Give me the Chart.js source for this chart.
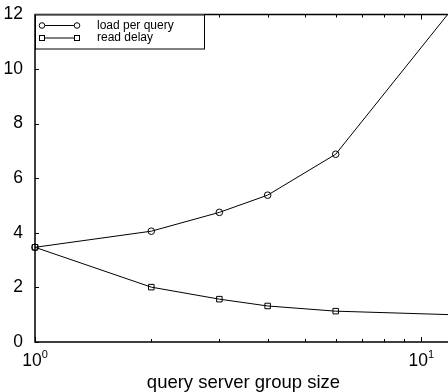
<!DOCTYPE html>
<html>
<head>
<meta charset="utf-8">
<script src="https://cdn.jsdelivr.net/npm/chart.js@4"></script>
<style>
  html, body { margin: 0; padding: 0; background: #fff; overflow: hidden; }
</style>
</head>
<body>
<canvas id="chart" width="460" height="392"></canvas>
<script>
var groupSizes = [1, 2, 3, 4, 6, 12];
var loadPerQuery = [3.47, 4.06, 4.75, 5.38, 6.88, 12.2];
var readDelay = [3.47, 2.01, 1.57, 1.32, 1.13, 1.0];

var xMajorTicks = [1, 10];
var xMinorTicks = [2, 3, 4, 5, 6, 7, 8, 9];
var yTicks = [0, 2, 4, 6, 8, 10, 12];

var FONT = '"Liberation Sans", Arial, Helvetica, sans-serif';

function pts(ys) {
  return groupSizes.map(function (g, i) { return {x: g, y: ys[i]}; });
}

// frame, inward ticks, x labels with exponents, axis title, legend box
var matlabAxes = {
  id: 'matlabAxes',
  afterDraw: function (chart) {
    var ctx = chart.ctx, a = chart.chartArea;
    var xs = chart.scales.x, ys = chart.scales.y;
    ctx.save();
    ctx.strokeStyle = '#000';
    ctx.lineWidth = 1.5;
    ctx.strokeRect(a.left, a.top, a.right - a.left, a.bottom - a.top);

    ctx.lineWidth = 1;
    ctx.beginPath();
    xMajorTicks.concat(xMinorTicks).forEach(function (v) {
      var px = Math.round(xs.getPixelForValue(v)) + 0.5;
      var len = xMajorTicks.indexOf(v) >= 0 ? 5 : 3;
      ctx.moveTo(px, a.bottom); ctx.lineTo(px, a.bottom - len);
      ctx.moveTo(px, a.top); ctx.lineTo(px, a.top + len);
    });
    yTicks.forEach(function (v) {
      var py = Math.round(ys.getPixelForValue(v)) + 0.5;
      ctx.moveTo(a.left, py); ctx.lineTo(a.left + 4, py);
      ctx.moveTo(a.right, py); ctx.lineTo(a.right - 4, py);
    });
    ctx.stroke();

    // x tick labels 10^n
    ctx.fillStyle = '#000';
    ctx.textBaseline = 'alphabetic';
    ctx.textAlign = 'left';
    xMajorTicks.forEach(function (v) {
      var px = xs.getPixelForValue(v);
      var exp = String(Math.round(Math.log10(v)));
      ctx.font = '17.5px ' + FONT;
      var wb = ctx.measureText('10').width;
      ctx.font = '11px ' + FONT;
      var we = ctx.measureText(exp).width;
      var x0 = px - (wb + we) / 2;
      ctx.font = '17.5px ' + FONT;
      ctx.fillText('10', x0, 366);
      ctx.font = '11px ' + FONT;
      ctx.fillText(exp, x0 + wb, 358);
    });

    ctx.font = '18.5px ' + FONT;
    ctx.textAlign = 'center';
    ctx.fillText('query server group size', (a.left + a.right) / 2, 388);

    // legend
    var lx = a.left, ly = a.top, lw = 169, lh = 34;
    ctx.fillStyle = '#fff';
    ctx.fillRect(lx, ly, lw, lh);
    ctx.lineWidth = 1;
    ctx.strokeStyle = '#000';
    ctx.strokeRect(lx + 0.5, ly + 0.5, lw, lh);
    var rows = [
      {label: 'load per query', y: ly + 11, style: 'circle'},
      {label: 'read delay', y: ly + 23.5, style: 'rect'}
    ];
    ctx.font = '12px ' + FONT;
    ctx.textAlign = 'left';
    ctx.textBaseline = 'middle';
    rows.forEach(function (r) {
      ctx.beginPath();
      ctx.moveTo(lx + 7, r.y); ctx.lineTo(lx + 42, r.y);
      ctx.stroke();
      [lx + 7, lx + 42].forEach(function (mx) {
        if (r.style === 'circle') {
          ctx.beginPath();
          ctx.arc(mx, r.y, 2.8, 0, Math.PI * 2);
          ctx.fillStyle = '#fff'; ctx.fill(); ctx.stroke();
        } else {
          ctx.fillStyle = '#fff';
          ctx.fillRect(mx - 2.5, r.y - 2.5, 5, 5);
          ctx.strokeRect(mx - 2.5, r.y - 2.5, 5, 5);
        }
      });
      ctx.fillStyle = '#000';
      ctx.fillText(r.label, lx + 62, r.y);
    });
    ctx.restore();
  }
};

new Chart(document.getElementById('chart'), {
  type: 'line',
  data: {
    datasets: [{
      label: 'load per query',
      data: pts(loadPerQuery),
      borderColor: '#000',
      borderWidth: 1,
      pointStyle: 'circle',
      pointRadius: 3.3,
      pointBorderWidth: 1,
      pointBorderColor: '#000',
      pointBackgroundColor: 'rgba(0,0,0,0)',
      tension: 0,
      fill: false,
      clip: {left: 6, top: 0, right: 0, bottom: 6}
    }, {
      label: 'read delay',
      data: pts(readDelay),
      borderColor: '#000',
      borderWidth: 1,
      pointStyle: 'rect',
      pointRadius: 3.9,
      pointBorderWidth: 1,
      pointBorderColor: '#000',
      pointBackgroundColor: 'rgba(0,0,0,0)',
      tension: 0,
      fill: false,
      clip: {left: 6, top: 0, right: 0, bottom: 6}
    }]
  },
  options: {
    responsive: false,
    animation: false,
    devicePixelRatio: 1,
    layout: {padding: {top: 14, right: 8, left: 0, bottom: 0}},
    plugins: {
      legend: {display: false},
      tooltip: {enabled: false}
    },
    scales: {
      x: {
        type: 'logarithmic',
        min: 1,
        max: 12,
        grid: {display: false},
        border: {display: false},
        ticks: {display: false},
        afterFit: function (s) { s.height = 50; }
      },
      y: {
        min: 0,
        max: 12,
        afterBuildTicks: function (s) {
          s.ticks = yTicks.map(function (v) { return {value: v}; });
        },
        grid: {display: false},
        border: {display: false},
        ticks: {
          color: '#000',
          padding: 4,
          font: {family: FONT, size: 17.5}
        },
        afterFit: function (s) { s.width = 35; }
      }
    }
  },
  plugins: [matlabAxes]
});
</script>
</body>
</html>
